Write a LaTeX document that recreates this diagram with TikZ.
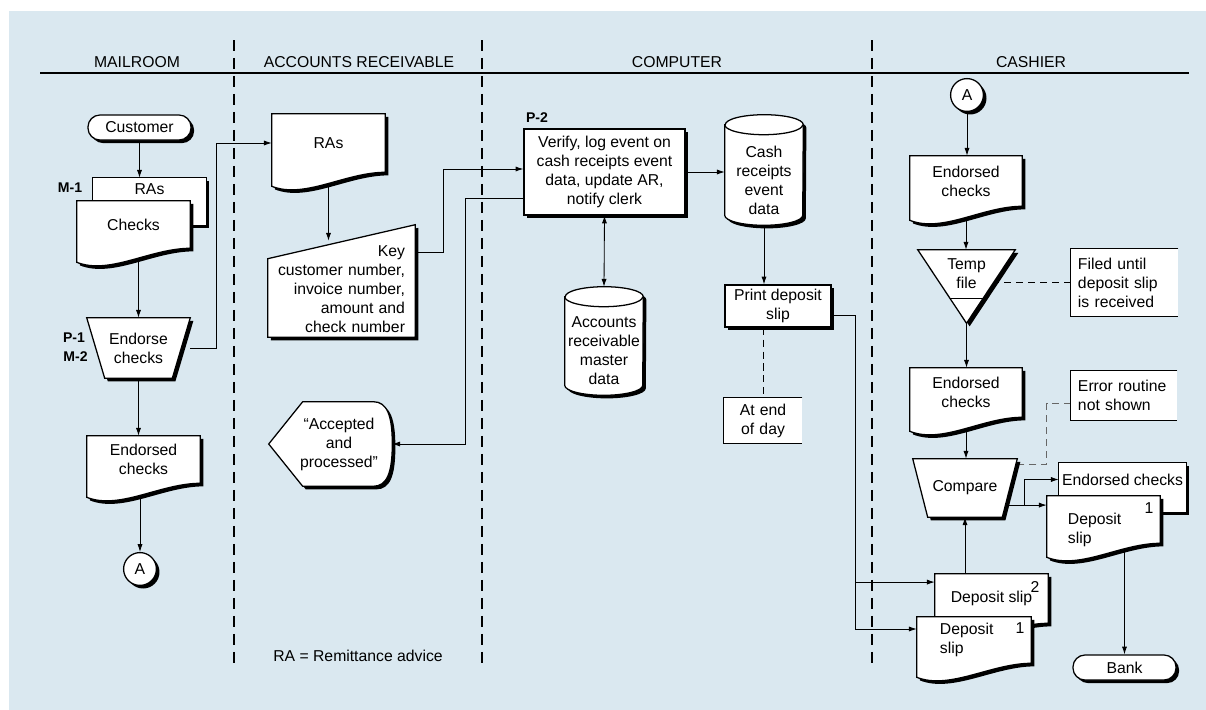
\documentclass[tikz,border=0pt]{standalone}
\usepackage{fontspec}
\setmainfont{Liberation Sans}
\usetikzlibrary{positioning, calc, arrows.meta, shadows}

\definecolor{panelblue}{RGB}{218,232,240}

\pgfdeclarelayer{panel}
\pgfdeclarelayer{lines}
\pgfdeclarelayer{shapes}
\pgfsetlayers{panel,lines,shapes,main}

% document symbol: straight top, wavy bottom
\newcommand{\docshape}[1]{%
  \path[shapebox] (#1.north west) -- (#1.north east) -- (#1.south east)
    .. controls +(-40,0) and +(33,13) .. ($(#1.south west)+(0,14)$) -- cycle;}
% manual operation: trapezoid, narrow at the bottom
\newcommand{\manualop}[2]{%
  \path[shapebox] (#1.north west) -- (#1.north east) -- ($(#1.south east)+(-#2,0)$)
    -- ($(#1.south west)+(#2,0)$) -- cycle;}
% disk storage
\newcommand{\dbshape}[1]{%
  \path[shapebox] ($(#1.north west)+(0,-10)$) -- ($(#1.south west)+(0,-10)$)
    arc[start angle=180, end angle=360, x radius=0.975cm, y radius=0.25cm]
    -- ($(#1.north east)+(0,-10)$)
    arc[start angle=0, end angle=180, x radius=0.975cm, y radius=0.25cm] -- cycle;
  \draw[line width=0.9pt] ($(#1.north west)+(0,-10)$)
    arc[start angle=180, end angle=360, x radius=0.975cm, y radius=0.25cm];}
% annotation bracket, open to the right
\newcommand{\annotbox}[1]{%
  \draw[line width=0.9pt] (#1.north east) -- (#1.north west) -- (#1.south west) -- (#1.south east);}

\begin{document}
\begin{tikzpicture}[
    x=0.025cm, y=-0.025cm,  % 1 unit = 1 px of the chart, y downwards
    font=\fontsize{11.2}{13.5}\selectfont,
    shadowed/.style={drop shadow={shadow xshift=2.2pt, shadow yshift=-2.2pt, fill=black, opacity=1}},
    box/.style={draw, fill=white, line width=0.9pt, shadowed, align=center, inner sep=0pt},
    shapebox/.style={draw, fill=white, line width=0.9pt, shadowed},
    holder/.style={inner sep=0pt, align=center},
    terminal/.style={box, rounded corners=0.3cm, minimum width=2.575cm, minimum height=0.625cm},
    connector/.style={box, circle, minimum size=0.82cm},
    note/.style={fill=white, inner xsep=0.175cm, inner ysep=0pt, align=left},
    lanehead/.style={},
    tag/.style={font=\fontsize{10}{12}\selectfont\bfseries},
    lane/.style={line width=1.4pt, dash pattern=on 7.8pt off 5pt},
    flow/.style={line width=0.6pt, -{Latex[length=5.5pt, width=3.6pt]}},
    flowboth/.style={line width=0.6pt, {Latex[length=5.5pt, width=3.6pt]}-{Latex[length=5.5pt, width=3.6pt]}},
    dotted note/.style={line width=0.6pt, dash pattern=on 5pt off 3.5pt},
  ]

    \useasboundingbox (0,0) rectangle (1206,710);
    \begin{pgfonlayer}{panel}
        \fill[panelblue] (9,11) rectangle (1206,710);
    \end{pgfonlayer}

    % Lane headings
    \node[lanehead] (hmail) at (137,62) {MAILROOM};
    \node[lanehead] (har) at (359,62) {ACCOUNTS RECEIVABLE};
    \node[lanehead] (hcomp) at (677,62) {COMPUTER};
    \node[lanehead] (hcash) at (1031,62) {CASHIER};
    \draw[line width=1pt] (40,73) -- (1189,73);
    \foreach \xlane in {234, 482, 872} {
        \draw[lane] (\xlane,40) -- (\xlane,667);
    }

    % Mailroom
    \node[terminal] (customer) at (139.5,127.5) {Customer};
    \node[tag] (tagM1) at (70,188) {M-1};
    \node[holder, minimum width=2.825cm, minimum height=0.575cm] (rasback) at (149.5,189.5) {RAs};
    \node[holder, minimum width=2.825cm, minimum height=1.175cm] (checks) at (133.5,224.5) {Checks};
    \node[tag] (tagP1) at (74,338) {P-1};
    \node[tag] (tagM2) at (75.5,357) {M-2};
    \node[holder, minimum width=2.575cm, minimum height=1.5cm] (endorse) at (138.5,348) {Endorse\\checks};
    \node[holder, minimum width=2.825cm, minimum height=1.175cm] (endorsed1) at (143.5,459.5) {Endorsed\\checks};
    \node[connector] (conA1) at (140,569) {A};

    % Accounts receivable
    \node[holder, minimum width=2.825cm, minimum height=1.45cm] (rasdoc) at (328.5,143) {RAs};
    \node[holder, minimum width=3.675cm, minimum height=2.4cm, text width=3.175cm, align=right] (keyin) at (341.5,289)
        {Key\\customer number,\\invoice number,\\amount and\\check number};
    \node[holder, minimum width=2.65cm, minimum height=2.1cm] (accepted) at (339,444) {“Accepted\\and\\processed”};
    \node (legend) at (358,656) {RA = Remittance advice};

    % Computer
    \node[tag] (tagP2) at (537,118) {P-2};
    \node[box, minimum width=4.025cm, minimum height=2.15cm] (p2) at (604.5,172)
        {Verify, log event on\\cash receipts event\\data, update AR,\\notify clerk};
    \node[holder, minimum width=1.95cm, minimum height=2.25cm] (cashdb) at (764,180) {Cash\\receipts\\event\\data};
    \node[holder, minimum width=1.95cm, minimum height=2.2cm] (armaster) at (604,351) {Accounts\\receivable\\master\\data};
    \node[box, minimum width=2.65cm, minimum height=1.05cm] (print) at (778,306) {Print deposit\\slip};
    \node[note, minimum height=1.125cm, text width=1.6cm, align=center] (endday) at (763,420.5) {At end\\of day};

    % Cashier
    \node[connector] (conA2) at (967,95) {A};
    \node[holder, minimum width=2.8cm, minimum height=1.25cm] (endorsedA) at (966,181) {Endorsed\\checks};
    \node[holder, minimum width=2.425cm, minimum height=1.2cm] (temp) at (966.5,274) {Temp\\file};
    \node[note, minimum height=1.675cm, text width=2.325cm] (filed) at (1124.5,282.5) {Filed until\\deposit slip\\is received};
    \node[holder, minimum width=2.8cm, minimum height=1.225cm] (endorsedB) at (966,392.5) {Endorsed\\checks};
    \node[note, minimum height=1.225cm, text width=2.3cm] (error) at (1124,395.5) {Error routine\\not shown};
    \node[holder, minimum width=2.6cm, minimum height=1.45cm] (compare) at (965,488) {Compare};
    \node[holder, minimum width=3.175cm, minimum height=0.825cm] (endorsedC) at (1122.5,479.5) {Endorsed checks};
    \node[holder, minimum width=2.825cm, minimum height=1.175cm] (slipone) at (1103.5,519.5) {};
    \node[anchor=west, align=left] (sliponetext) at (1063,530) {Deposit\\slip};
    \node (numone) at (1149,508) {1};
    \node[holder, minimum width=2.825cm, minimum height=1.225cm] (sliptwo) at (991.5,598.5) {Deposit slip};
    \node (numtwo) at (1035,587) {2};
    \node[holder, minimum width=2.85cm, minimum height=1.15cm, text width=1.7cm, align=left] (slipthree) at (974,640) {Deposit\\slip};
    \node (numthree) at (1020,628) {1};
    \node[terminal] (bank) at (1124.5,667.5) {Bank};

    \annotbox{endday}
    \annotbox{filed}
    \annotbox{error}

    % Symbols behind the texts
    \begin{pgfonlayer}{shapes}
        \path[shapebox] (rasback.north west) rectangle ($(rasback.south east)+(0,24)$);
        \docshape{checks}
        \manualop{endorse}{18}
        \docshape{endorsed1}
        \docshape{rasdoc}
        \path[shapebox] ($(keyin.north west)+(0,18)$) -- ($(keyin.north east)+(0,-16)$)
            -- (keyin.south east) -- (keyin.south west) -- cycle;
        \path[shapebox] ($(accepted.west)+(-17,0)$) -- ($(accepted.north west)+(17,0)$)
            -- ($(accepted.north east)+(-19,0)$) .. controls +(14,0) and +(0,-28) .. (accepted.east)
            .. controls +(0,28) and +(14,0) .. ($(accepted.south east)+(-19,0)$)
            -- ($(accepted.south west)+(17,0)$) -- cycle;
        \dbshape{cashdb}
        \dbshape{armaster}
        \docshape{endorsedA}
        \path[shapebox] (temp.north west) -- (temp.north east) -- ($(temp.south)+(0,25)$) -- cycle;
        \draw[line width=0.9pt] ($(temp.south)+(-16.5,0)$) -- ($(temp.south)+(16.5,0)$);
        \docshape{endorsedB}
        \manualop{compare}{15}
        \path[shapebox] (endorsedC.north west) rectangle ($(endorsedC.south east)+(0,16)$);
        \docshape{slipone}
        \docshape{sliptwo}
        \docshape{slipthree}
    \end{pgfonlayer}

    % Flow lines
    \coordinate (slipin) at ([yshift=3.6mm]slipone.west);
    \begin{pgfonlayer}{lines}
        \draw[flow] (customer) -- (customer |- rasback.north);
        \draw[flow] (endorse.north |- checks.south) -- (endorse.north);
        \draw[flow] (endorse) -- ++(78,0) |- (rasdoc.west);
        \draw[flow] (endorse) -- (endorse |- endorsed1.north);
        \draw[flow] (conA1 |- endorsed1.south) -- (conA1);
        \draw[flow] (rasdoc.south) -- (rasdoc.south |- keyin.north);
        \draw[flow] ([yshift=9.25mm]keyin.east) -- ++(28,0) |- ([yshift=0.75mm]p2.west);
        \draw[flow] ([yshift=-6.5mm]p2.west) -- ++(-58,0) |- (accepted.east);
        \draw[flow] (p2.east) -- (p2.east -| cashdb.west);
        \draw[flowboth] (p2.south) -- ([yshift=5mm]armaster.north);
        \draw[flow] (cashdb.south) -- (cashdb.south |- print.north);
        \draw[dotted note] (endday.north |- print.south) -- (endday.north);
        \draw[flow] ([yshift=-2.25mm]print.east) -- ++(24,0) |- ([yshift=4.1mm]sliptwo.west);
        \draw[flow] ([yshift=-2.25mm]print.east) -- ++(24,0) |- ([yshift=2.75mm]slipthree.west);
        \draw[flow] (conA2) -- (conA2 |- endorsedA.north);
        \draw[flow] (endorsedA.south) -- (endorsedA.south |- temp.north);
        \draw[flow] (temp.south) -- (temp.south |- endorsedB.north);
        \draw[dotted note] (filed.west) -- (filed.west -| temp.center);
        \draw[flow] (endorsedB.south) -- (endorsedB.south |- compare.north);
        \draw[dotted note, black!60] ([yshift=-2mm]error.west) -- ++(-24,0) |- ([yshift=-1.5mm]compare.north);
        \draw[flow] (compare.center |- slipin) -- (slipin);
        \draw[flow] ($(slipin)+(-22,0)$) |- (endorsedC.west);
        \draw[flow] (bank.north |- slipone.south) -- (bank.north);
        \draw[flow] (compare.south |- sliptwo.north) -- (compare.south);
    \end{pgfonlayer}

\end{tikzpicture}
\end{document}
